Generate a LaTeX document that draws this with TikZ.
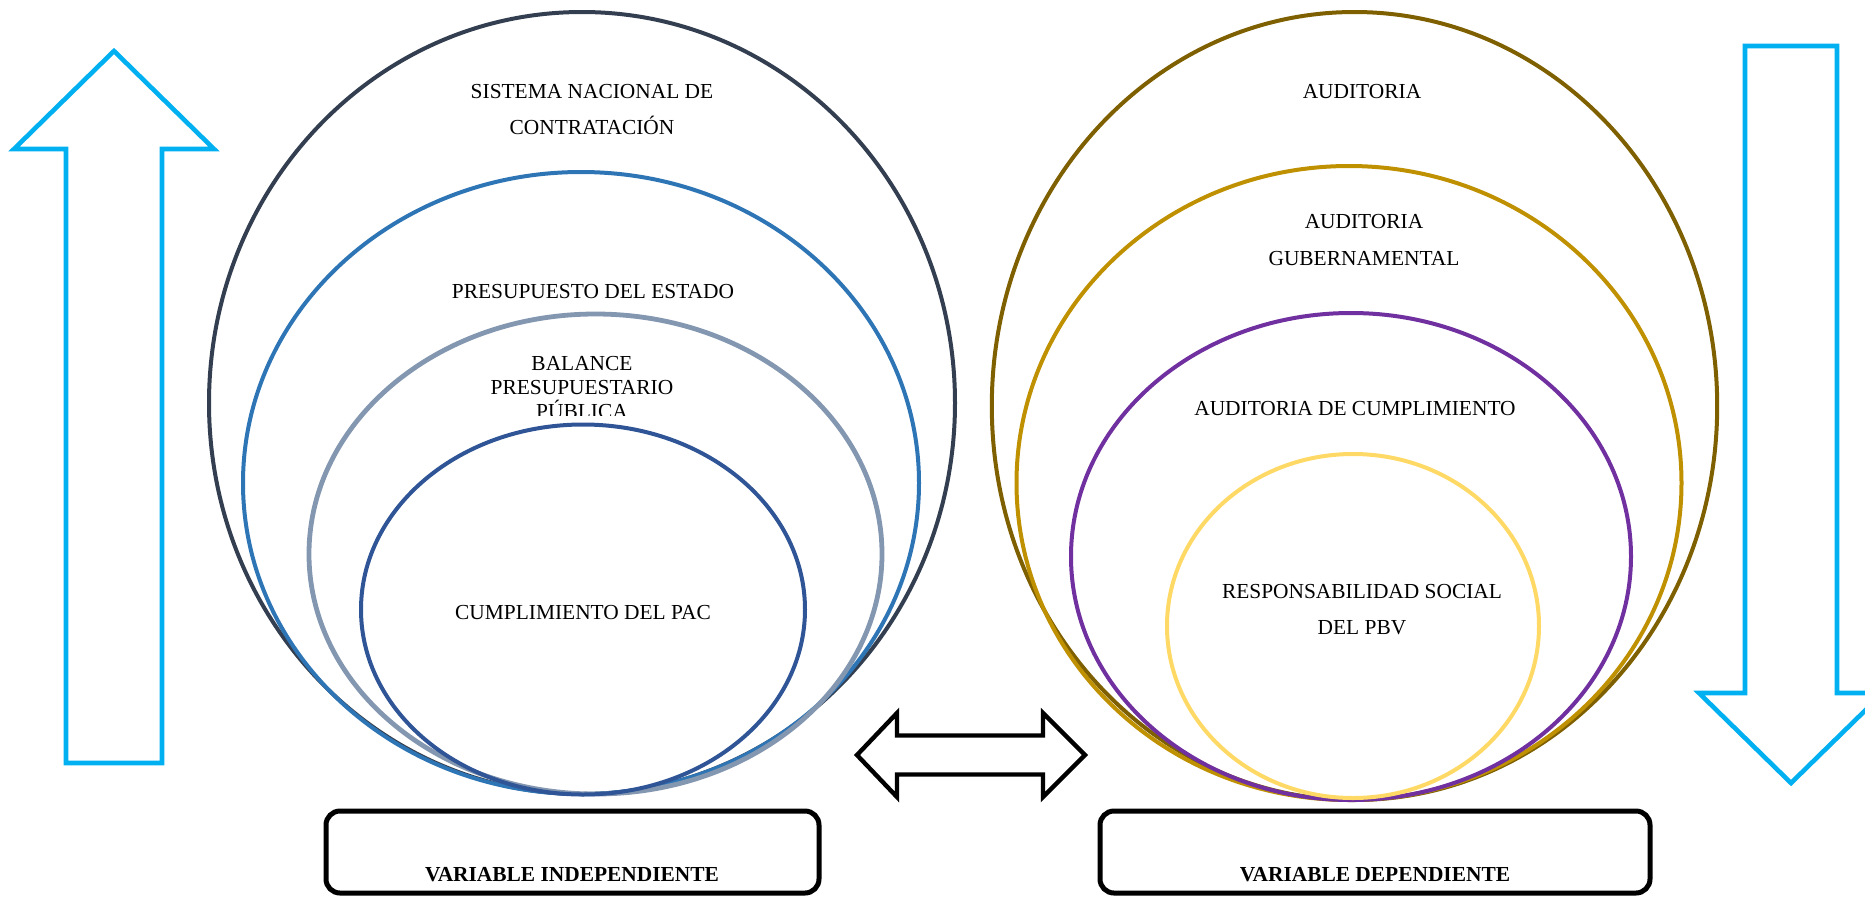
\documentclass[tikz,border=0pt]{standalone}
\usepackage{fontspec}
\setmainfont{Liberation Serif}
\usetikzlibrary{shapes.geometric}

\definecolor{slate}{HTML}{333F50}
\definecolor{midblue}{HTML}{2E75B6}
\definecolor{greyblue}{HTML}{8497B0}
\definecolor{deepblue}{HTML}{2F5597}
\definecolor{darkgold}{HTML}{7F6000}
\definecolor{gold}{HTML}{BF9000}
\definecolor{violet}{HTML}{7030A0}
\definecolor{lightgold}{HTML}{FFD966}
\definecolor{skyline}{HTML}{00B0F0}

\begin{document}
\begin{tikzpicture}[x=0.5pt,y=-0.5pt,
  ring/.style={draw=#1, ellipse, line width=2pt, inner sep=0pt, outer sep=0pt},
  % multi-line labels: the base anchor sits on the last line
  lbl/.style={anchor=base, align=center, inner sep=0pt, font=\fontsize{10.7}{18}\selectfont},
  varbox/.style={draw=black, line width=2.5pt, rounded corners=7pt, inner sep=0pt},
  varlbl/.style={anchor=base, inner sep=0pt, font=\fontsize{10.7}{13}\selectfont\bfseries},
  flowarrow/.style={draw=skyline, line width=2.3pt, line join=miter},
  linkarrow/.style={draw=black, line width=2.2pt, line join=miter}]

\useasboundingbox (0,0) rectangle (1865,896);
\clip (0,0) rectangle (1865,896);

% ---- independent variable: nested ellipses ----
\node[ring=slate, minimum width=373pt, minimum height=391pt] (snc) at (582,403) {};
\node[ring=midblue, minimum width=338pt, minimum height=311pt] (pde) at (581,483) {};
\node[ring=greyblue, line width=2.4pt, minimum width=286.5pt, minimum height=240pt] (bpp) at (595.5,554) {};
\node[ring=deepblue, minimum width=222pt, minimum height=185pt] (pac) at (583,609.5) {};

\node[lbl] (sncT) at (592,134.5) {SISTEMA NACIONAL DE\\CONTRATACIÓN};
\node[lbl] (pdeT) at (593,298) {PRESUPUESTO DEL ESTADO};
\begin{scope}
  \clip (420,330) rectangle (760,415);
  \node[lbl, font=\fontsize{10.7}{12}\selectfont] (bppT) at (582,418) {BALANCE\\PRESUPUESTARIO\\PÚBLICA};
\end{scope}
\node[lbl] (pacT) at (583,619.5) {CUMPLIMIENTO DEL PAC};

% ---- dependent variable: nested ellipses ----
\node[ring=darkgold, minimum width=362.7pt, minimum height=394pt] (aud) at (1354.5,406) {};
\node[ring=gold, minimum width=332.5pt, minimum height=317pt] (agu) at (1349,483) {};
\node[ring=violet, minimum width=280pt, minimum height=243.5pt] (acu) at (1351,556.5) {};
\node[ring=lightgold, minimum width=186pt, minimum height=172pt] (rsp) at (1353,626) {};

\node[lbl] (audT) at (1362,98.5) {AUDITORIA};
\node[lbl, font=\fontsize{10.7}{18.5}\selectfont] (aguT) at (1364,265) {AUDITORIA\\GUBERNAMENTAL};
\node[lbl] (acuT) at (1355,415.5) {AUDITORIA DE CUMPLIMIENTO};
\node[lbl] (rspT) at (1362,634) {RESPONSABILIDAD SOCIAL\\DEL PBV};

% ---- variable boxes ----
\node[varbox, minimum width=246.5pt, minimum height=41pt] (vi) at (572.5,852) {};
\node[varbox, minimum width=275pt, minimum height=41pt] (vd) at (1375,852) {};
\node[varlbl] (viT) at (572,881) {VARIABLE INDEPENDIENTE};
\node[varlbl] (vdT) at (1375,881) {VARIABLE DEPENDIENTE};

% ---- upward block arrow ----
\draw[flowarrow] (114,51) -- (214,149) -- (162,149) -- (162,763) -- (66,763)
  -- (66,149) -- (14,149) -- cycle;

% ---- downward block arrow ----
\draw[flowarrow] (1745,46) -- (1837,46) -- (1837,693) -- (1883,693) -- (1791,783)
  -- (1699,693) -- (1745,693) -- cycle;

% ---- two-way link between the variables ----
\draw[linkarrow] (857,755) -- (897,713) -- (897,735.5) -- (1043,735.5) -- (1043,713)
  -- (1085,755) -- (1043,797) -- (1043,774.5) -- (897,774.5) -- (897,797) -- cycle;

\end{tikzpicture}
\end{document}
